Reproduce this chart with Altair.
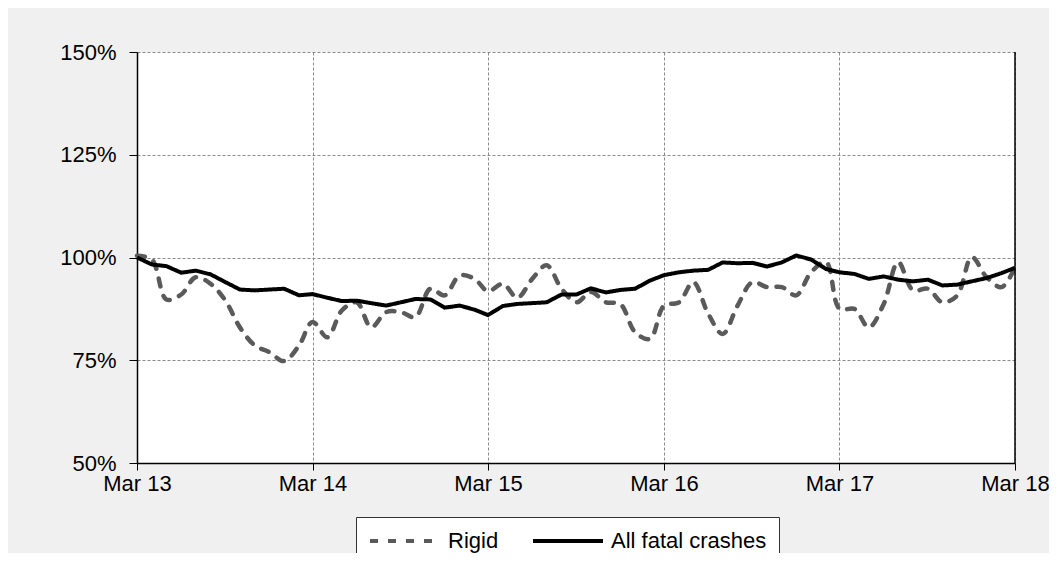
import altair as alt
import pandas as pd

# Monthly dates Mar 2013 .. Mar 2018
dates = [f"{2013 + (2 + i) // 12}-{(2 + i) % 12 + 1:02d}-01T00:00:00" for i in range(61)]

series_names = ["Rigid", "All fatal crashes"]

rigid = [100.4, 99.5, 89.8, 91.0, 95.2, 93.6, 89.5, 83.0, 78.6, 77.0, 74.8, 78.6,
         84.3, 80.6, 87.1, 89.1, 83.0, 86.7, 86.7, 85.5, 92.4, 90.8, 95.6, 94.8,
         91.8, 93.6, 90.2, 94.8, 98.1, 92.4, 89.1, 91.6, 89.1, 88.7, 81.8, 80.2,
         88.3, 89.1, 94.0, 86.3, 81.4, 88.3, 94.0, 92.8, 92.8, 90.8, 96.4, 98.9,
         87.5, 87.5, 83.0, 88.7, 98.9, 92.0, 92.4, 89.1, 90.8, 100.1, 95.2, 92.8,
         97.6]

all_fatal = [100.0, 98.3, 97.9, 96.3, 96.8, 95.9, 94.0, 92.2, 92.0, 92.2, 92.4, 90.8,
             91.1, 90.2, 89.4, 89.5, 88.9, 88.3, 89.1, 89.9, 89.8, 87.8, 88.3, 87.3,
             86.0, 88.2, 88.7, 88.9, 89.1, 91.0, 91.0, 92.5, 91.5, 92.1, 92.4, 94.4,
             95.7, 96.4, 96.8, 97.0, 98.8, 98.6, 98.7, 97.8, 98.8, 100.5, 99.5, 97.2,
             96.4, 96.0, 94.8, 95.4, 94.6, 94.2, 94.6, 93.2, 93.4, 94.2, 95.0, 96.2,
             97.5]

y_ticks = [50, 75, 100, 125, 150]
x_tick_years = [2013, 2014, 2015, 2016, 2017, 2018]

df_rigid = pd.DataFrame({"date": dates, "value": rigid, "series": series_names[0]})
df_all = pd.DataFrame({"date": dates, "value": all_fatal, "series": series_names[1]})
df_edge = pd.DataFrame({"date": [dates[-1]]})

FONT = "Liberation Sans"
FS = 22

x_enc = alt.X(
    "date:T",
    scale=alt.Scale(
        domain=[alt.DateTime(year=2013, month=3, date=1),
                alt.DateTime(year=2018, month=3, date=1)],
        nice=False,
    ),
    axis=alt.Axis(
        values=[alt.DateTime(year=y, month=3, date=1) for y in x_tick_years],
        format="%b %y",
        title=None,
        labelFontSize=FS,
        labelFont=FONT,
        labelColor="black",
        labelPadding=3,
        labelFlush=False,
        labelOverlap=False,
        tickSize=7,
        tickColor="black",
        domainColor="black",
        domainWidth=1.5,
        gridColor="#8a8a8a",
        gridDash=[3, 2],
        gridWidth=1,
    ),
)

y_enc = alt.Y(
    "value:Q",
    scale=alt.Scale(domain=[50, 150], nice=False, zero=False),
    axis=alt.Axis(
        values=y_ticks,
        labelExpr="datum.value + '%'",
        title=None,
        labelFontSize=FS,
        labelFont=FONT,
        labelColor="black",
        labelPadding=13,
        labelFlush=False,
        tickSize=8,
        tickColor="black",
        domainColor="black",
        domainWidth=1.5,
        gridColor="#8a8a8a",
        gridDash=[3, 2],
        gridWidth=1,
    ),
)

color_enc = alt.Color(
    "series:N",
    scale=alt.Scale(domain=series_names, range=["#5a5a5a", "#000000"]),
    legend=alt.Legend(
        title=None,
        orient="none",
        legendX=219,
        legendY=465,
        direction="horizontal",
        columns=2,
        fillColor="white",
        strokeColor="#333333",
        padding=12,
        labelFontSize=FS,
        labelFont=FONT,
        labelColor="black",
        labelLimit=400,
        labelOffset=31,
        columnPadding=26,
        symbolType="M-3.5,0H3.5",
        symbolSize=400,
        symbolOffset=25,
        symbolStrokeWidth=4,
    ),
)

dash_enc = alt.StrokeDash(
    "series:N",
    scale=alt.Scale(domain=series_names, range=[[8, 10], [1, 0]]),
    legend=alt.Legend(title=None),
)

rigid_line = alt.Chart(df_rigid).mark_line(
    interpolate="catmull-rom", strokeWidth=4.5, strokeCap="round"
).encode(x=x_enc, y=y_enc, color=color_enc, strokeDash=dash_enc)

all_line = alt.Chart(df_all).mark_line(
    strokeWidth=4, strokeJoin="round"
).encode(x=x_enc, y=y_enc, color=color_enc, strokeDash=dash_enc)

edge = alt.Chart(df_edge).mark_rule(color="black", strokeWidth=1.5).encode(x="date:T")

chart = alt.layer(rigid_line, all_line, edge).properties(
    width=878,
    height=411,
    background="#f0f0f0",
    padding={"left": 129, "top": 44, "right": 34, "bottom": 90},
    autosize=alt.AutoSizeParams(type="none"),
).configure_view(
    fill="white",
    stroke=None,
)

chart.save("out.html", embed_options={"renderer": "svg", "actions": False})
